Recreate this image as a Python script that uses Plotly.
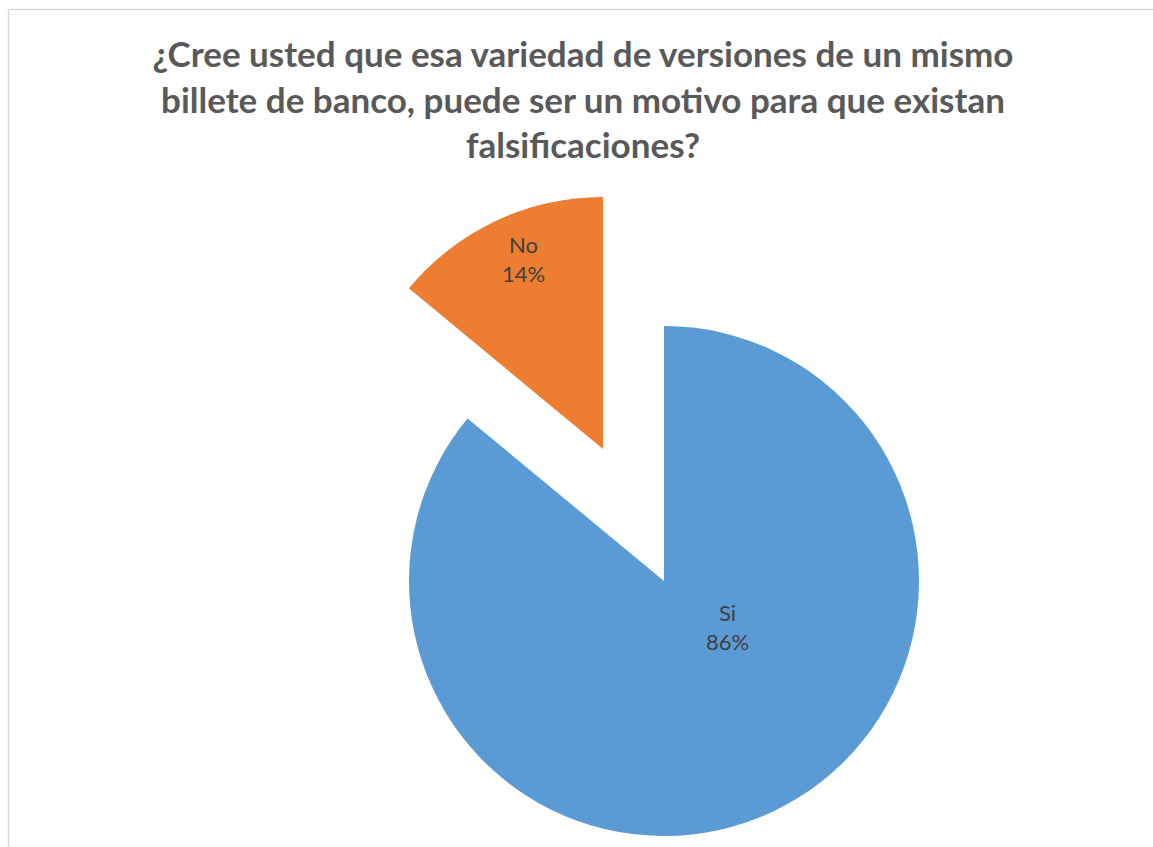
import plotly.graph_objects as go

labels = ["Si", "No"]
values = [86, 14]
colors = ["#5B9BD5", "#ED7D31"]
title_text = ("¿Cree usted que esa variedad de versiones de un mismo<br>"
              "billete de banco, puede ser un motivo para que existan<br>"
              "falsificaciones?")

# page body margin removed (see post_script); figure fills the window
W, H = 1153, 847

def px(x):
    return x / W

def py(y):
    return 1 - y / H

def dom(cx, cy, r):
    return dict(x=[px(cx - r), px(cx + r)], y=[py(cy + r), py(cy - r)])

total = sum(values)
pcts = [round(100 * v / total) for v in values]

fig = go.Figure()
# main pie (Si)
fig.add_trace(go.Pie(
    labels=labels, values=values, sort=False, direction="clockwise", rotation=0,
    marker=dict(colors=[colors[0], "rgba(0,0,0,0)"], line=dict(width=0)),
    textinfo="none", domain=dom(664, 581, 255), showlegend=False, hoverinfo="label+percent",
))
# exploded slice (No)
fig.add_trace(go.Pie(
    labels=labels, values=values, sort=False, direction="clockwise", rotation=0,
    marker=dict(colors=["rgba(0,0,0,0)", colors[1]], line=dict(width=0)),
    textinfo="none", domain=dom(603, 449, 252), showlegend=False, hoverinfo="label+percent",
))

label_pos = [(727, 627), (523, 259)]
annotations = [
    dict(text=f"{lab}<br>{p}%", x=px(x), y=py(y), xref="paper", yref="paper",
         showarrow=False, xanchor="center", yanchor="middle",
         font=dict(family="Lato", size=22, color="#404040"))
    for lab, p, (x, y) in zip(labels, pcts, label_pos)
]

border = dict(color="#D9D9D9", width=1.5)
fig.update_layout(
    width=W, height=H,
    margin=dict(l=0, r=0, t=0, b=0),
    paper_bgcolor="white", plot_bgcolor="white",
    title=dict(text=title_text, x=px(583), xanchor="center", y=py(67), yanchor="middle",
               font=dict(family="Lato", size=35, color="#595959", weight="bold")),
    annotations=annotations,
    shapes=[
        dict(type="line", xref="paper", yref="paper", x0=px(8.5), x1=1, y0=py(9.5), y1=py(9.5),
             line=border, layer="below"),
        dict(type="line", xref="paper", yref="paper", x0=px(8.5), x1=px(8.5), y0=0, y1=py(9.5),
             line=border, layer="below"),
    ],
)

fig.write_html("out.html",
               config={"displayModeBar": False},
               post_script="document.body.style.margin='0';"
                           "document.documentElement.style.overflow='hidden';"
                           "document.body.style.overflow='hidden';")
